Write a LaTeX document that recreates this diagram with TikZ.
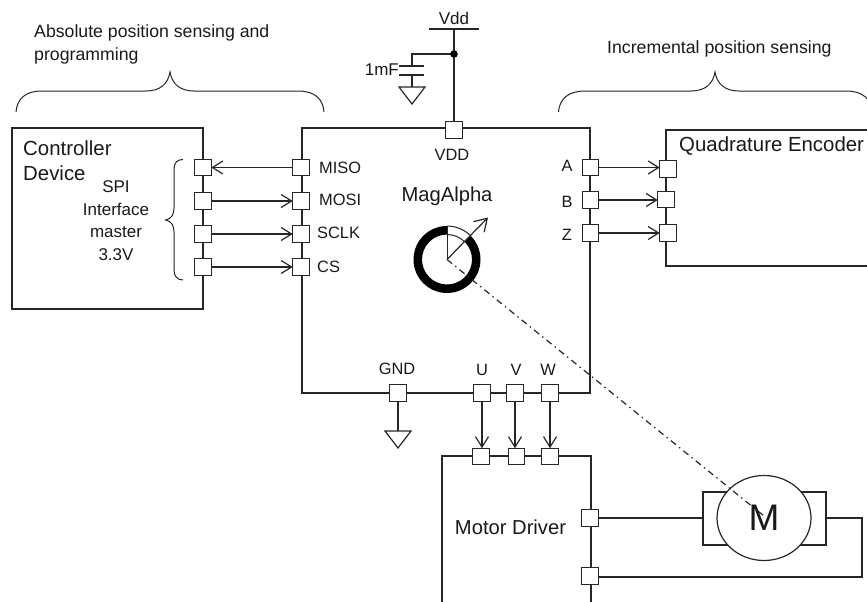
\documentclass[tikz,border=0pt]{standalone}
\usepackage{fontspec}
\setmainfont{Liberation Sans}
\usetikzlibrary{arrows.meta,shapes.geometric}
\tikzset{
  wire/.style={line width=1.2pt,draw=black!85},
  thinwire/.style={line width=1pt,draw=black!85},
  sig/.style={wire,-{Straight Barb[length=10.5pt,width=13pt,line width=1.2pt]}},
  port/.style={draw=black!85,line width=1.2pt,fill=white,minimum size=16.5pt,inner sep=0pt,outer sep=0pt},
  lab/.style={inner sep=0pt,font=\fontsize{16.4}{18}\selectfont,text=black!90},
  biglab/.style={inner sep=0pt,font=\fontsize{20.4}{23}\selectfont,anchor=west,text=black!90},
  toplab/.style={inner sep=0pt,font=\fontsize{17.7}{20}\selectfont,anchor=west,text=black!90},
  spilab/.style={inner sep=0pt,font=\fontsize{17}{19}\selectfont,text=black!90},
  midlab/.style={inner sep=0pt,font=\fontsize{20.2}{22}\selectfont,text=black!90},
}
\begin{document}
\begin{tikzpicture}[x=1pt,y=-1pt]
\path[use as bounding box] (0,0) rectangle (867,602);
\clip (0,0) rectangle (867,602);
% coordinates
\coordinate (ma) at (302,128); \coordinate (mb) at (590,128);
\coordinate (mc) at (590,393); \coordinate (md) at (302,393);
\coordinate (ca) at (12,128); \coordinate (cb) at (203,128);
\coordinate (cc) at (203,309); \coordinate (cd) at (12,309);
\coordinate (ea) at (870,130); \coordinate (eb) at (666,130);
\coordinate (ec) at (666,266); \coordinate (ed) at (870,266);
\coordinate (da) at (442,606); \coordinate (db) at (442,456);
\coordinate (dc) at (591,456); \coordinate (dd) at (591,606);
% boxes
\draw[wire] (ma)--(mb)--(mc)--(md)--cycle;
\draw[wire] (ca)--(cb)--(cc)--(cd)--cycle;
\draw[wire] (ea)--(eb)--(ec)--(ed);
\draw[wire] (da)--(db)--(dc)--(dd);
% ports
\node[port] (miso) at (301,167.5) {};
\node[port] (mosi) at (301,201) {};
\node[port] (sclk) at (301,234) {};
\node[port] (cs) at (301,267) {};
\node[port] (cmiso) at (203,167.5) {};
\node[port] (cmosi) at (203,201) {};
\node[port] (csclk) at (203,234) {};
\node[port] (ccs) at (203,267) {};
\node[port] (vddp) at (454,130) {};
\node[port] (pa) at (590.5,167.5) {};
\node[port] (pb) at (590.5,200) {};
\node[port] (pz) at (590.5,233) {};
\node[port] (qa) at (668,169) {};
\node[port] (qb) at (666,199.5) {};
\node[port] (qz) at (668,233) {};
\node[port] (gndp) at (398,393) {};
\node[port] (pu) at (482,393) {};
\node[port] (pv) at (515,393) {};
\node[port] (pw) at (550,393) {};
\node[port] (du) at (481,456.5) {};
\node[port] (dv) at (516.5,456.5) {};
\node[port] (dw) at (550,456.5) {};
\node[port] (d1) at (590,518) {};
\node[port] (d2) at (590,576) {};
% signals
\draw[sig] (miso.west)--(cmiso.east);
\draw[sig] (cmosi.east)--(mosi.west);
\draw[sig] (csclk.east)--(sclk.west);
\draw[sig] (ccs.east)--(cs.west);
\draw[sig] (pa.east)--(qa.west|-pa.east);
\draw[sig] (pb.east)--(qb.west|-pb.east);
\draw[sig] (pz.east)--(qz.west|-pz.east);
\draw[sig] (pu.south)--(pu.south|-du.north);
\draw[sig] (pv.south)--(pv.south|-dv.north);
\draw[sig] (pw.south)--(pw.south|-dw.north);
% Vdd
\coordinate (vl) at (429,29); \coordinate (vr) at (479,29);
\coordinate (vtop) at (454,29); \coordinate (vdot) at (454,54);
\coordinate (bcorner) at (412,54); \coordinate (p1) at (412,66);
\coordinate (p1l) at (399,66); \coordinate (p1r) at (424,66);
\coordinate (p2) at (412,75); \coordinate (p2l) at (399,75); \coordinate (p2r) at (424,75);
\coordinate (tr1a) at (399,87); \coordinate (tr1b) at (425,87); \coordinate (tr1c) at (412,104);
\draw[wire] (vl)--(vr);
\draw[wire] (vtop)--(vddp.north);
\draw[wire] (vdot)--(bcorner)--(p1);
\draw[wire] (p1l)--(p1r);
\draw[wire] (p2l)--(p2r);
\draw[wire] (p2)--(412,87);
\draw[wire] (tr1a)--(tr1b)--(tr1c)--cycle;
\fill[black] (vdot) circle (3.8pt);
% GND
\coordinate (tr2a) at (385,431); \coordinate (tr2b) at (411,431); \coordinate (tr2c) at (398,448);
\draw[wire] (gndp.south)--(398,431);
\draw[wire] (tr2a)--(tr2b)--(tr2c)--cycle;
% ring
\coordinate (rc) at (447,259.5);
\begin{scope}[shift={(447pt,-259.5pt)},x=1pt,y=1pt]
\fill[black,even odd rule] (90:33.5) arc (90:405:33.5) -- (45:25) arc (405:90:25) -- cycle;
\draw[thinwire] (45:33.5) arc (45:90:33.5);
\draw[thinwire] (45:25) arc (45:90:25);
\draw[thinwire] (0,0)--(90:33.5);
\end{scope}
% motor
\coordinate (ra) at (703,492); \coordinate (rb) at (826,492);
\coordinate (rc2) at (826,545); \coordinate (rd) at (703,545);
\coordinate (rl) at (703,518); \coordinate (rr) at (826,518);
\coordinate (wc1) at (862,518); \coordinate (wc2) at (862,577);
\draw[wire] (ra)--(rb)--(rc2)--(rd)--cycle;
\node[draw=black!85,line width=1.2pt,fill=white,ellipse,minimum width=94pt,minimum height=85pt,inner sep=0pt] (motor) at (764,518) {};
\draw[wire] (d1.east)--(rl);
\draw[wire] (rr)--(wc1)--(wc2)--(d2.east|-wc2);
\coordinate (mcen) at (764,516);
\draw[line width=1.2pt,draw=black!85,dash pattern=on 6.5pt off 4pt on 1.5pt off 4pt] (rc)--(mcen);
\coordinate (atip) at (488,217.5);
\draw[wire,-{Straight Barb[length=12pt,width=15pt,line width=1.2pt]}] (rc)--(atip);
\node[inner sep=0pt,font=\fontsize{37}{40}\selectfont,text=black!90] (mlab) at (764,518) {M};
% braces
\coordinate (b1s) at (16,112); \coordinate (b1e) at (324,112); \coordinate (b1t) at (170,72);
\draw[thinwire] (b1s) .. controls (17,99) and (25,91) .. (42,91) -- (146,91) .. controls (160,91) and (168,84) .. (b1t)
  .. controls (172,84) and (180,91) .. (194,91) -- (298,91) .. controls (315,91) and (323,99) .. (b1e);
\coordinate (b2s) at (558.5,112); \coordinate (b2e) at (872,112); \coordinate (b2t) at (715,72);
\draw[thinwire] (b2s) .. controls (559.5,99) and (568,91) .. (585,91) -- (691,91) .. controls (705,91) and (713,84) .. (b2t)
  .. controls (717,84) and (725,91) .. (739,91) -- (846,91) .. controls (863,91) and (871,99) .. (b2e);
\coordinate (b3s) at (183,159.5); \coordinate (b3e) at (183,280); \coordinate (b3t) at (165.5,220);
\draw[thinwire] (b3s) .. controls (177,159.5) and (174,163) .. (174,169) -- (174,208) .. controls (174,215) and (171,219) .. (b3t)
  .. controls (171,221) and (174,225) .. (174,232) -- (174,270) .. controls (174,276) and (177,280) .. (b3e);
% text
\node[toplab] (t1) at (34,33) {Absolute position sensing and};
\node[toplab] (t2) at (34,56) {programming};
\node[toplab] (t3) at (607,49) {Incremental position sensing};
\node[biglab] (t4) at (23,148) {Controller};
\node[biglab] (t5) at (23,173) {Device};
\node[spilab] (t6) at (116,187) {SPI};
\node[spilab] (t7) at (116,209) {Interface};
\node[spilab] (t8) at (116,232) {master};
\node[spilab] (t9) at (116,255) {3.3V};
\node[lab,anchor=west] (t10) at (319,168) {MISO};
\node[lab,anchor=west] (t11) at (319,200) {MOSI};
\node[lab,anchor=west] (t12) at (317,233) {SCLK};
\node[lab,anchor=west] (t13) at (317,267) {CS};
\node[lab] (t14) at (452,155) {VDD};
\node[midlab] (t15) at (447,196) {MagAlpha};
\node[lab] (t16) at (567,166) {A};
\node[lab] (t17) at (567,202) {B};
\node[lab] (t18) at (567,235) {Z};
\node[lab] (t19) at (397,369) {GND};
\node[lab] (t20) at (482,370) {U};
\node[lab] (t21) at (516,370) {V};
\node[lab] (t22) at (548,370) {W};
\node[midlab] (t23) at (510.5,527) {Motor Driver};
\node[spilab,anchor=east] (t24) at (399,70) {1mF};
\node[inner sep=0pt,font=\fontsize{17}{19}\selectfont,text=black!90] (t25) at (454,18) {Vdd};
\node[biglab] (t26) at (679,146) {Quadrature Encoder};
\end{tikzpicture}
\end{document}
